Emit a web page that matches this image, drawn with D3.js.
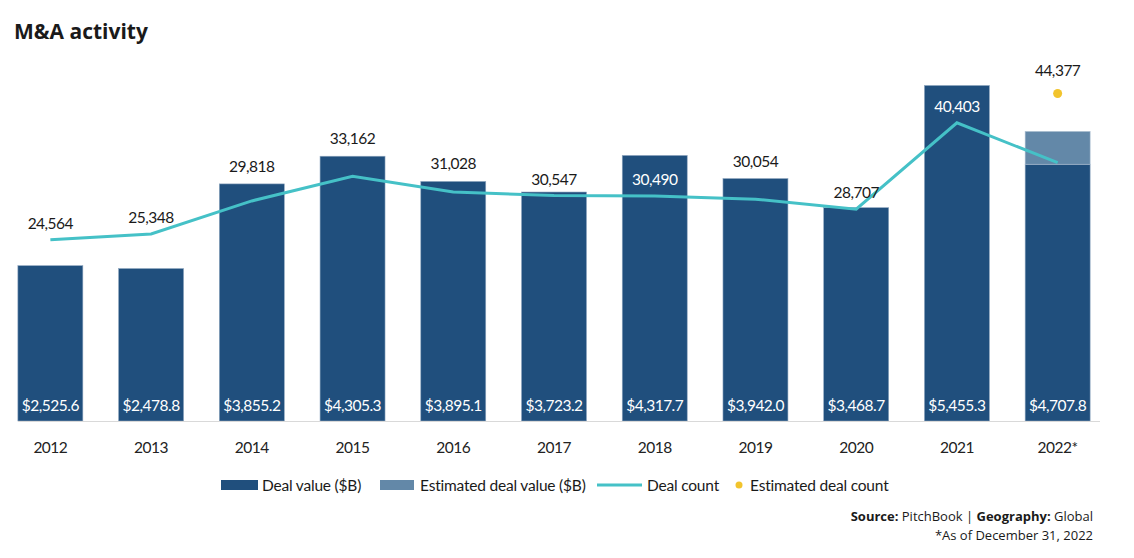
<!DOCTYPE html>
<html>
<head>
<meta charset="utf-8">
<script src="https://cdn.jsdelivr.net/npm/d3@7"></script>
<style>
  body { margin: 0; background: #fff; }
  svg text { font-family: Lato, "Noto Sans", sans-serif; }
  .num { letter-spacing: -0.5px; }
</style>
</head>
<body>
<svg id="chart" width="1134" height="558"></svg>
<script>
    const years = ["2012", "2013", "2014", "2015", "2016", "2017", "2018", "2019", "2020", "2021", "2022*"];
    const dealValue = [2525.6, 2478.8, 3855.2, 4305.3, 3895.1, 3723.2, 4317.7, 3942.0, 3468.7, 5455.3, 4175.0];
    const estValue = [0, 0, 0, 0, 0, 0, 0, 0, 0, 0, 532.8];
    const dealCount = [24564, 25348, 29818, 33162, 31028, 30547, 30490, 30054, 28707, 40403, 35000];
    const estCount = [null, null, null, null, null, null, null, null, null, null, 44377];
    const showCountLabel = [true, true, true, true, true, true, true, true, true, true, false];

    const darkBlue = "#204f7d";
    const lightBlue = "#6388a8";
    const teal = "#45c1c7";
    const yellow = "#f2c42d";
    const fs = "15.5px";

    const svg = d3.select("#chart");

    // title
    svg.append("text")
        .attr("x", 14).attr("y", 39)
        .style("font-family", "'Open Sans', sans-serif")
        .style("font-weight", 700)
        .style("font-size", "21px")
        .attr("fill", "#1a1a1a")
        .text("M&A activity");

    const x = d3.scaleBand()
        .domain(years)
        .range([0, 1108])
        .paddingInner(0.355)
        .paddingOuter(0.1775);

    const yVal = d3.scaleLinear().domain([0, 6000]).range([421, 52]);
    const yCnt = d3.scaleLinear().domain([0, 50000]).range([421, 52]);

    const rows = years.map((y, i) => ({
        year: y, val: dealValue[i], est: estValue[i], cnt: dealCount[i],
        estCnt: estCount[i], showLbl: showCountLabel[i]
    }));

    // bars
    svg.append("g").selectAll("rect")
        .data(rows)
        .join("rect")
            .attr("x", d => x(d.year))
            .attr("width", x.bandwidth())
            .attr("y", d => yVal(d.val))
            .attr("height", d => yVal(0) - yVal(d.val))
            .attr("fill", darkBlue)
            .attr("stroke", "#8ea6bf")
            .attr("stroke-width", 0.6);

    svg.append("g").selectAll("rect")
        .data(rows.filter(d => d.est > 0))
        .join("rect")
            .attr("x", d => x(d.year))
            .attr("width", x.bandwidth())
            .attr("y", d => yVal(d.val + d.est))
            .attr("height", d => yVal(d.val) - yVal(d.val + d.est))
            .attr("fill", lightBlue)
            .attr("stroke", "#a9bdd0")
            .attr("stroke-width", 0.6);

    // baseline
    svg.append("line")
        .attr("x1", 18).attr("x2", 1100)
        .attr("y1", 421.5).attr("y2", 421.5)
        .attr("stroke", "#d9d9d9").attr("stroke-width", 1.2);

    // value labels in bars
    svg.append("g").selectAll("text")
        .data(rows)
        .join("text")
            .attr("class", "num")
            .attr("x", d => x(d.year) + x.bandwidth() / 2)
            .attr("y", 411)
            .attr("text-anchor", "middle")
            .attr("fill", "#fff")
            .style("font-size", fs)
            .text(d => "$" + d3.format(",.1f")(d.val + d.est));

    // year axis
    const xAxis = svg.append("g")
        .attr("transform", "translate(0,421)")
        .call(d3.axisBottom(x).tickSize(0).tickPadding(21));
    xAxis.select(".domain").remove();
    xAxis.selectAll("text")
        .attr("class", "num")
        .style("font-size", fs)
        .style("font-family", "Lato, sans-serif")
        .attr("fill", "#222");

    // deal count line
    const line = d3.line()
        .x(d => x(d.year) + x.bandwidth() / 2)
        .y(d => yCnt(d.cnt));

    svg.append("path")
        .datum(rows)
        .attr("d", line)
        .attr("fill", "none")
        .attr("stroke", teal)
        .attr("stroke-width", 3);

    // estimated count dot
    svg.append("g").selectAll("circle")
        .data(rows.filter(d => d.estCnt != null))
        .join("circle")
            .attr("cx", d => x(d.year) + x.bandwidth() / 2)
            .attr("cy", d => yCnt(d.estCnt))
            .attr("r", 4.5)
            .attr("fill", yellow);

    svg.append("g").selectAll("text")
        .data(rows.filter(d => d.estCnt != null))
        .join("text")
            .attr("class", "num")
            .attr("x", d => x(d.year) + x.bandwidth() / 2)
            .attr("y", d => yCnt(d.estCnt) - 17)
            .attr("text-anchor", "middle")
            .attr("fill", "#1a1a1a")
            .style("font-size", fs)
            .text(d => d3.format(",")(d.estCnt));

    // deal count labels: above the line point, pushed above the bar top if they would clip it
    svg.append("g").selectAll("text")
        .data(rows.filter(d => d.showLbl))
        .join("text")
            .attr("class", "num")
            .each(function(d) {
                const barTop = yVal(d.val + d.est);
                let base = yCnt(d.cnt) - 11;
                let col = "#1a1a1a";
                if (base - 11 > barTop + 6) {
                    col = "#fff";
                } else if (base + 3 > barTop - 3) {
                    base = barTop - 12;
                }
                d3.select(this)
                    .attr("x", x(d.year) + x.bandwidth() / 2)
                    .attr("y", base)
                    .attr("fill", col);
            })
            .attr("text-anchor", "middle")
            .style("font-size", fs)
            .text(d => d3.format(",")(d.cnt));

    // legend
    const lg = svg.append("g").attr("transform", "translate(0,485)");
    lg.append("rect").attr("x", 221).attr("y", -5).attr("width", 37).attr("height", 10).attr("fill", darkBlue);
    lg.append("text").attr("x", 262).attr("y", 5.5).text("Deal value ($B)");
    lg.append("rect").attr("x", 380).attr("y", -5).attr("width", 34).attr("height", 10).attr("fill", lightBlue);
    lg.append("text").attr("x", 420).attr("y", 5.5).text("Estimated deal value ($B)");
    lg.append("line").attr("x1", 597).attr("x2", 642).attr("y1", 0).attr("y2", 0)
        .attr("stroke", teal).attr("stroke-width", 3);
    lg.append("text").attr("x", 647).attr("y", 5.5).text("Deal count");
    lg.append("circle").attr("cx", 739).attr("cy", 0).attr("r", 3.5).attr("fill", yellow);
    lg.append("text").attr("x", 750).attr("y", 5.5).text("Estimated deal count");
    lg.selectAll("text").style("font-size", fs).style("letter-spacing", "-0.2px").attr("fill", "#1a1a1a");

    // source note
    const note = svg.append("text")
        .attr("x", 1093).attr("y", 521)
        .attr("text-anchor", "end")
        .style("font-family", "'Open Sans', sans-serif")
        .style("font-size", "13px")
        .attr("fill", "#1a1a1a");
    note.append("tspan").style("font-weight", 700).text("Source:");
    note.append("tspan").text(" PitchBook  |  ");
    note.append("tspan").style("font-weight", 700).text("Geography:");
    note.append("tspan").text(" Global");

    svg.append("text")
        .attr("x", 1093).attr("y", 540)
        .attr("text-anchor", "end")
        .style("font-family", "'Open Sans', sans-serif")
        .style("font-size", "13px")
        .attr("fill", "#1a1a1a")
        .text("*As of December 31, 2022");
</script>
</body>
</html>
